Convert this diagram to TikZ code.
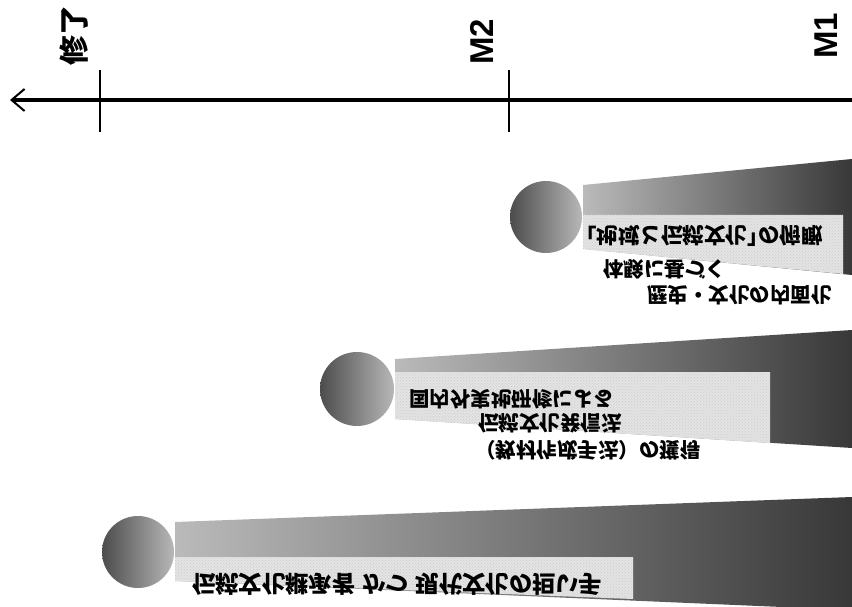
\documentclass[tikz,border=0pt]{standalone}
\usepackage{fontspec}
\usepackage{graphicx}
\newfontfamily\jp{Noto Sans CJK JP}
\newfontfamily\lsans{Liberation Sans}
\usetikzlibrary{arrows.meta,patterns}
\definecolor{ballL}{gray}{0.30}
\definecolor{ballR}{gray}{0.72}
\definecolor{wedgeL}{gray}{0.73}
\definecolor{wedgeR}{gray}{0.22}
\definecolor{dotbg}{gray}{0.89}
\newcommand{\ubr}[1]{\raisebox{0.76em}{\scalebox{1}[-1]{#1}}}
\newcommand{\obr}{\makebox[0.5em][r]{\ubr{「}}}
\newcommand{\cbr}{\makebox[0.5em][l]{\ubr{」}}}
\tikzset{
  ball/.style={left color=ballL, right color=ballR},
  wedge/.style={left color=wedgeL, right color=wedgeR},
  dotarea/.style={fill=dotbg},
  dotpat/.style={pattern=crosshatch dots, pattern color=gray!40},
  flipjp/.style={anchor=west, inner sep=0pt, yscale=-1,
    font=\jp\bfseries\fontsize{20.5}{20.5}\selectfont},
  bigjp/.style={flipjp, font=\jp\bfseries\fontsize{23.3}{23.3}\selectfont},
  axislabel/.style={rotate=90, inner sep=0pt},
  tick/.style={line width=1.4pt}
}
\begin{document}
\begin{tikzpicture}[x=1pt,y=-1pt]
\useasboundingbox (0,0) rectangle (852,607);
% axis
\coordinate (axR) at (852,100);
\coordinate (axL) at (10,100);
\draw[line width=3.4pt,-{Straight Barb[length=13pt,width=22pt,line width=2pt]}] (axR) -- (axL);
\draw[tick] (100,70) -- (100,132);
\draw[tick] (509,70) -- (509,132);
\node[axislabel, font=\jp\bfseries\fontsize{30}{30}\selectfont] (lfin) at (74,36) {修了};
\node[axislabel, font=\lsans\bfseries\fontsize{33}{33}\selectfont] (lm2) at (482,42) {M2};
\node[axislabel, font=\lsans\bfseries\fontsize{33}{33}\selectfont] (lm1) at (826,36) {M1};

% band 1
\shade[wedge] (583,185) -- (852,159) -- (852,275) -- (583,249) -- cycle;
\fill[dotarea] (583,215) -- (843,215) -- (843,274) -- (583,249) -- cycle;
\fill[dotpat] (583,215) -- (843,215) -- (843,274) -- (583,249) -- cycle;
\shade[ball] (546,217) circle (36pt);
\node[flipjp, font=\jp\bfseries\fontsize{21.5}{21.5}\selectfont] (t11) at (586,236) {\obr 地域と伝統文化\cbr の俯瞰};
\node[flipjp] (t12) at (603,269) {体験に基づく};
\node[flipjp] (t13) at (647,295) {歴史・文化の内面化};

% band 2
\shade[wedge] (395,359) -- (852,330) -- (852,448) -- (395,419) -- cycle;
\fill[dotarea] (395,372) -- (770,372) -- (770,443) -- (395,419) -- cycle;
\fill[dotpat] (395,372) -- (770,372) -- (770,443) -- (395,419) -- cycle;
\shade[ball] (357,389) circle (37pt);
\node[flipjp] (t21) at (409,399) {国内外実地研修による};
\node[flipjp] (t22) at (478,423) {伝統文化発信法};
\node[flipjp] (t23) at (475,450) {（教材作成手法）の獲得};

% band 3
\shade[wedge] (175,522) -- (852,497) -- (852,610) -- (175,581) -- cycle;
\fill[dotarea] (175,557) -- (633,557) -- (633,599) -- (175,581) -- cycle;
\fill[dotpat] (175,557) -- (633,557) -- (633,599) -- (175,581) -- cycle;
\shade[ball] (138,552) circle (36pt);
\node[bigjp] (t31) at (192,584) {伝統文化継承者\hspace{0.3em}かつ\hspace{0.3em}現代文化の担い手};
\end{tikzpicture}
\end{document}
